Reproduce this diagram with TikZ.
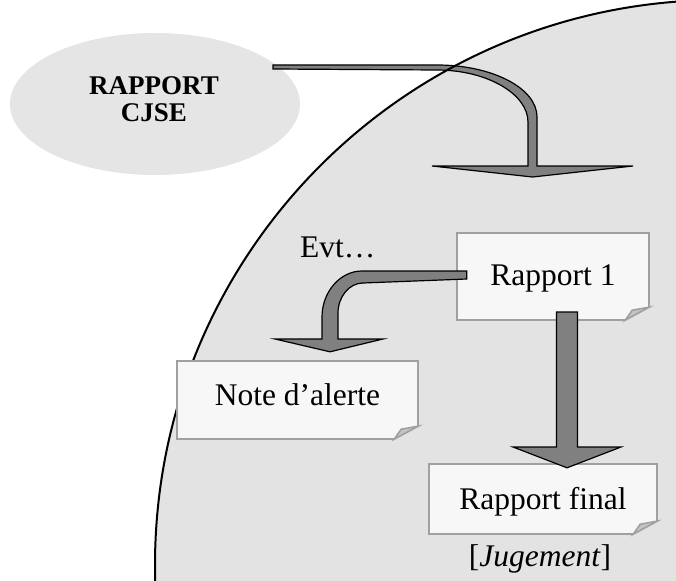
\documentclass[tikz,border=0pt]{standalone}
\usepackage{fontspec}
\setmainfont{Liberation Serif}
\usetikzlibrary{shapes.geometric,calc}
\definecolor{circfill}{HTML}{E3E3E3}
\definecolor{ellfill}{HTML}{E5E5E5}
\definecolor{boxfill}{HTML}{F7F7F7}
\definecolor{boxline}{HTML}{A0A0A0}
\definecolor{foldfill}{HTML}{C4C4C4}
\definecolor{arrfill}{HTML}{808080}
\newcommand\notefold[1]{%
  \fill[circfill] (#1.south east) -- ($(#1.south east)+(-24,0)$) -- ($(#1.south east)+(0,-13)$) -- cycle;
  \draw[boxedge] ($(#1.south east)+(-24,0)$) -- (#1.south west) -- (#1.north west) -- (#1.north east) -- ($(#1.south east)+(0,-13)$);
  \filldraw[boxedge, fill=foldfill] ($(#1.south east)+(-24,0)$) -- ($(#1.south east)+(-17,-10)$) -- ($(#1.south east)+(0,-13)$) -- cycle;
}
\begin{document}
\begin{tikzpicture}[x=1pt,y=-1pt,
  txt/.style={font=\fontsize{31.5}{36}\selectfont},
  notebox/.style={rectangle, fill=boxfill, draw=none, inner sep=0pt, text height=21pt, txt},
  boxedge/.style={draw=boxline, line width=1.6pt, line join=miter},
  arrowst/.style={fill=arrfill, draw=black, line width=1.2pt, line join=miter}]
\useasboundingbox (0,0) rectangle (676,580);
\clip (0,0) rectangle (676,580);
% big circle
\fill[circfill] (720,565) circle[radius=565pt];
% ellipse
\node[ellipse, fill=ellfill, draw=none, minimum width=290pt, minimum height=142pt, inner sep=0pt] (cjse) at (155,104) {};
\node[font=\fontsize{27}{27}\selectfont\bfseries, align=center, text depth=0pt, inner sep=0pt, anchor=south] (cjset) at (154,122) {RAPPORT\\CJSE};
% arrow from ellipse
\coordinate (a1s) at (273,67);
\coordinate (a1e) at (532.5,177);
\filldraw[arrowst] ($(a1s)+(0,-2)$) -- (437,65) .. controls (492,65) and (537,88) .. (537,117) -- (537,166) -- (633,166) -- (a1e) -- (432,166) -- (528,166) -- (528,122) .. controls (528,94) and (487,70) .. (437,70) -- ($(a1s)+(0,2)$) -- cycle;
% circle outline
\draw[line width=2pt] (720,565) circle[radius=565pt];
% boxes
\node[notebox, minimum width=192pt, minimum height=87pt, text depth=4pt] (r1) at (553,276.5) {Rapport 1};
\notefold{r1}
\node[notebox, minimum width=241pt, minimum height=78pt, text depth=11pt] (na) at (297.5,400) {Note d’alerte};
\notefold{na}
\node[notebox, minimum width=228pt, minimum height=70pt, text depth=0pt] (rf) at (543,499) {Rapport final};
\notefold{rf}
% arrow Rapport 1 -> Note d'alerte
\filldraw[arrowst] ($(r1.west)+(10,-5.5)$) -- (362,271) .. controls (340,271) and (322,292) .. (322,317) -- (322,339) -- (275,339) -- ($(na.north)+(32.5,-9)$) -- (383,339) -- (338,339) -- (338,313) .. controls (338,297) and (349,283) .. (363,283) -- ($(r1.west)+(10,2.5)$) -- cycle;
% arrow Rapport 1 -> Rapport final
\filldraw[arrowst] (556.5,312) -- (556.5,447) -- (513,447) -- ($(rf.north)+(24,4)$) -- (621,447) -- (577.5,447) -- (577.5,312) -- cycle;
% texts
\node[txt, anchor=base west, inner sep=0pt] (evt) at (300,257) {Evt…};
\node[txt, anchor=base, inner sep=0pt] (jug) at (540,566) {[\textit{Jugement}]};
\end{tikzpicture}
\end{document}
